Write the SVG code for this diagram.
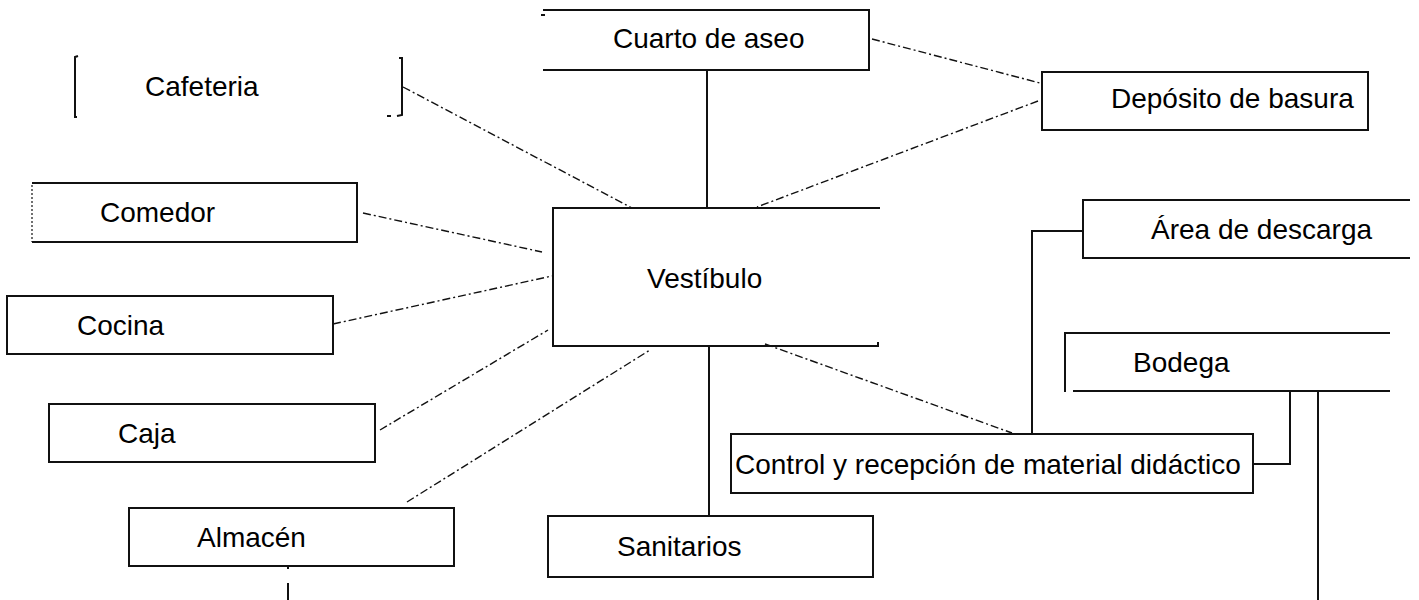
<svg xmlns="http://www.w3.org/2000/svg" width="1419" height="600" viewBox="0 0 1419 600">
<style>
  .box { fill: none; stroke: #111; stroke-width: 2; }
  .solid { fill: none; stroke: #111; stroke-width: 2; }
  .dash { fill: none; stroke: #111; stroke-width: 1.4; stroke-dasharray: 8 3 2 3; }
  .dot { fill: none; stroke: #111; stroke-width: 1.2; stroke-dasharray: 2 2; }
  text { font-family: "Liberation Sans", Arial, sans-serif; font-size: 28px; fill: #000; }
</style>
<rect width="1419" height="600" fill="#fff"/>
<g id="connectors">
  <line class="solid" x1="707" y1="70" x2="707" y2="208"/>
  <line class="solid" x1="709" y1="346" x2="709" y2="516"/>
  <polyline class="solid" points="1083,231 1032,231 1032,434"/>
  <polyline class="solid" points="1290,391 1290,464 1253,464"/>
  <line class="solid" x1="1318" y1="391" x2="1318" y2="600"/>
  <line class="solid" x1="288" y1="566" x2="288" y2="569"/>
  <line class="solid" x1="288" y1="583" x2="288" y2="600"/>
  <line class="dash" x1="403" y1="87" x2="632" y2="208"/>
  <line class="dash" x1="872" y1="39" x2="1040" y2="83"/>
  <line class="dash" x1="1038" y1="101" x2="757" y2="207"/>
  <line class="dash" x1="363" y1="213" x2="542" y2="252"/>
  <line class="dash" x1="333" y1="324" x2="552" y2="276"/>
  <line class="dash" x1="380" y1="430" x2="548" y2="330"/>
  <line class="dash" x1="407" y1="502" x2="650" y2="350"/>
  <line class="dash" x1="765" y1="344" x2="1012" y2="433"/>
</g>
<g id="cafeteria">
  <path class="box" d="M78,56 L75,57 L75,117 L77,117"/>
  <path class="box" d="M399,58 L402,58 L402,115 L397,116"/>
  <line class="box" x1="387" y1="116" x2="391" y2="116" stroke-width="1.5"/>
  <text x="145" y="96">Cafeteria</text>
</g>
<g id="cuarto-aseo">
  <line class="box" x1="541" y1="15" x2="545" y2="15" stroke-width="1.5"/>
  <path class="box" d="M543,10 L869,10 L869,70 L543,70"/>
  <text x="613" y="48">Cuarto de aseo</text>
</g>
<g id="deposito-basura">
  <rect class="box" x="1042" y="72" width="326" height="58"/>
  <text x="1111" y="108">Depósito de basura</text>
</g>
<g id="comedor">
  <path class="box" d="M32,183 L357,183 L357,242 L32,242"/>
  <line class="dot" x1="32" y1="185" x2="32" y2="242"/>
  <text x="100" y="222">Comedor</text>
</g>
<g id="vestibulo">
  <path class="box" d="M880,208 L553,208 L553,346 L878,346 L878,342"/>
  <text x="647" y="288">Vestíbulo</text>
</g>
<g id="area-descarga">
  <path class="box" d="M1410,200 L1083,200 L1083,258 L1410,258"/>
  <text x="1151" y="239">Área de descarga</text>
</g>
<g id="cocina">
  <rect class="box" x="7" y="296" width="326" height="58"/>
  <text x="77" y="335">Cocina</text>
</g>
<g id="bodega">
  <path class="box" d="M1390,333 L1065,333 L1065,392 M1073,391 L1390,391"/>
  <text x="1133" y="372">Bodega</text>
</g>
<g id="caja">
  <rect class="box" x="49" y="404" width="326" height="58"/>
  <text x="118" y="443">Caja</text>
</g>
<g id="control">
  <rect class="box" x="731" y="434" width="522" height="59"/>
  <text x="735" y="474">Control y recepción de material didáctico</text>
</g>
<g id="almacen">
  <rect class="box" x="129" y="508" width="325" height="58"/>
  <text x="197" y="547">Almacén</text>
</g>
<g id="sanitarios">
  <rect class="box" x="548" y="516" width="325" height="61"/>
  <text x="617" y="556">Sanitarios</text>
</g>
</svg>
